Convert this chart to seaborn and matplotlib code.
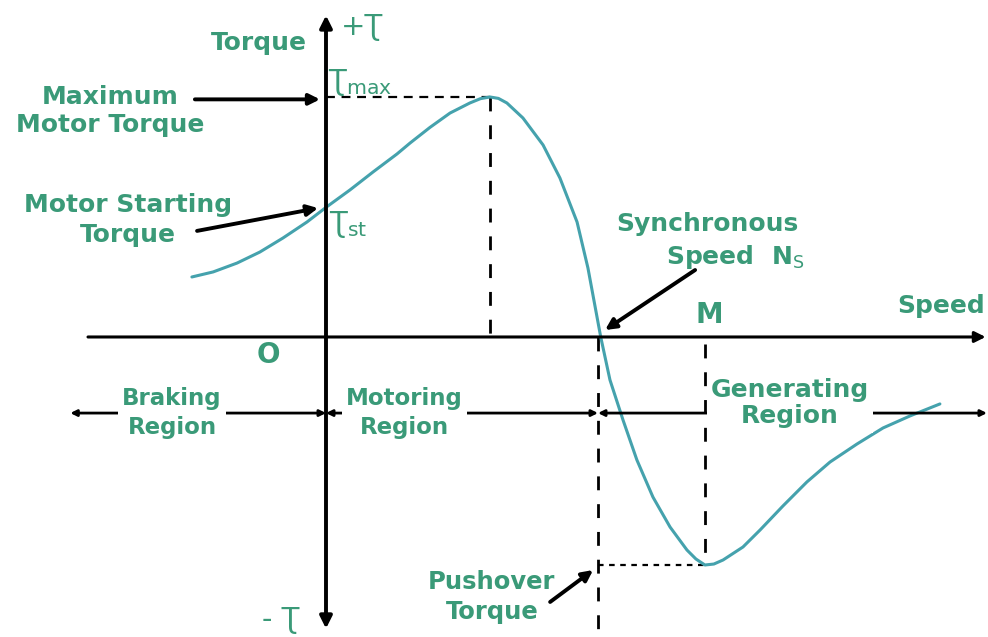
import numpy as np
import pandas as pd
import seaborn as sns
import matplotlib.pyplot as plt

# torque-speed curve of an induction machine (speed in units of Ns, torque in units of Tmax)
speed = [-0.493, -0.415, -0.327, -0.243, -0.158, -0.070, 0.0, 0.088, 0.173, 0.261,
         0.309, 0.382, 0.456, 0.529, 0.568, 0.603, 0.634, 0.665, 0.724, 0.798,
         0.860, 0.923, 0.963, 1.01, 1.044, 1.092, 1.143, 1.202, 1.265, 1.327,
         1.360, 1.393, 1.426, 1.460, 1.533, 1.596, 1.680, 1.768, 1.853, 1.952,
         2.048, 2.147, 2.257]
torque = [0.25, 0.271, 0.308, 0.354, 0.4125, 0.479, 0.54, 0.6125, 0.6875, 0.7625,
          0.808, 0.873, 0.933, 0.975, 0.993, 1.0, 0.994, 0.975, 0.9125, 0.8,
          0.6625, 0.479, 0.2875, 0.0, -0.179, -0.346, -0.5125, -0.667, -0.792, -0.8875,
          -0.925, -0.95, -0.946, -0.929, -0.875, -0.804, -0.704, -0.604, -0.521, -0.446,
          -0.379, -0.329, -0.279]

t_max_speed, t_max = 0.603, 1.0
sync_speed = 1.0
m_speed, t_pushover = 1.393, -0.95

regions = ["Braking\nRegion", "Motoring\nRegion", "Generating\nRegion"]
region_bounds = [(-0.94, 0.0), (0.0, 1.0), (1.0, 2.43)]
region_text_x = [-0.566, 0.287, 1.706]
region_text_y = [-0.317, -0.317, -0.275]
region_size = [16.5, 16.5, 18]
region_spacing = [1.32, 1.32, 1.15]

df = pd.DataFrame({"speed": speed, "torque": torque})

sns.set_theme(style="white")
plt.rcParams['font.family'] = ['DejaVu Sans']

txt_col = "#3a9a78"
curve_col = "#45a2ad"

fig = plt.figure(figsize=(9.88, 6.37), dpi=100)
ax = fig.add_axes([0, 0, 1, 1])
ax.set_xlim(-1.1985, 2.4338)
ax.set_ylim(-1.25, 1.404)
ax.axis("off")

sns.lineplot(data=df, x="speed", y="torque", color=curve_col, lw=2.2, ax=ax, zorder=3)

# axes with arrows
ax.annotate("", xy=(0, 1.34), xytext=(0, -1.215),
            arrowprops=dict(arrowstyle="<|-|>", lw=2.8, color="black", mutation_scale=18,
                            shrinkA=0, shrinkB=0))
ax.annotate("", xy=(2.425, 0), xytext=(-0.875, 0),
            arrowprops=dict(arrowstyle="-|>", lw=2.2, color="black", mutation_scale=16,
                            shrinkA=0, shrinkB=0))

# dashed guide lines
ax.plot([0, t_max_speed], [t_max, t_max], ls=(0, (4, 3)), color="black", lw=1.6)
ax.plot([t_max_speed, t_max_speed], [t_max, 0], ls=(0, (5, 5)), color="black", lw=2)
ax.plot([sync_speed, sync_speed], [0, -1.25], ls=(0, (5, 5)), color="black", lw=2)
ax.plot([m_speed, m_speed], [-0.03, t_pushover], ls=(0, (5, 5)), color="black", lw=2)
ax.plot([sync_speed, m_speed], [t_pushover, t_pushover], ls=(0, (2.5, 2.5)), color="black", lw=1.6)

# region arrows
for (a, b), lab, tx, ty, fs, sp in zip(region_bounds, regions, region_text_x, region_text_y,
                                       region_size, region_spacing):
    ax.annotate("", xy=(a, -0.317), xytext=(b, -0.317),
                arrowprops=dict(arrowstyle="<|-|>", lw=2, color="black", mutation_scale=9,
                                shrinkA=0, shrinkB=0))
    ax.text(tx, ty, lab, color=txt_col, fontsize=fs, fontweight="bold", ha="center",
            va="center", linespacing=sp, zorder=4,
            bbox=dict(facecolor="white", edgecolor="none", pad=3))

# pointer arrows
pointer = dict(arrowstyle="-|>", lw=2.8, color="black", mutation_scale=16, shrinkA=0, shrinkB=0)
ax.annotate("", xy=(-0.022, 0.99), xytext=(-0.482, 0.99), arrowprops=pointer)
ax.annotate("", xy=(-0.029, 0.537), xytext=(-0.474, 0.442), arrowprops=pointer)
ax.annotate("", xy=(1.026, 0.029), xytext=(1.357, 0.279), arrowprops=pointer)
ax.annotate("", xy=(0.982, -0.971), xytext=(0.824, -1.104), arrowprops=pointer)

# labels
lab = dict(color=txt_col, fontweight="bold", ha="center", va="center")
ax.text(-0.246, 1.225, "Torque", fontsize=18, **lab)
ax.text(-0.794, 0.942, "Maximum\nMotor Torque", fontsize=18, linespacing=1.25, **lab)
ax.text(-0.728, 0.4875, "Motor Starting\nTorque", fontsize=18, linespacing=1.3, **lab)
ax.text(1.401, 0.471, "Synchronous", fontsize=18, **lab)
ax.text(1.504, 0.333, r"Speed  N$_\mathrm{S}$", fontsize=18, **lab)
ax.text(2.262, 0.129, "Speed", fontsize=18, **lab)
ax.text(0.610, -1.083, "Pushover\nTorque", fontsize=17.5, linespacing=1.3, **lab)
ax.text(1.408, 0.092, "M", fontsize=20, **lab)
ax.text(-0.213, -0.075, "O", fontsize=20, **lab)

sym = dict(color=txt_col, fontsize=21, ha="left", va="center")
ax.text(0.055, 1.29, "+Ʈ", **sym)
ax.text(-0.235, -1.18, "- Ʈ", **sym)
ax.text(0.008, 1.06, r"Ʈ$_\mathrm{max}$", **sym)
ax.text(0.012, 0.47, r"Ʈ$_\mathrm{st}$", **sym)

fig.savefig("out.png", dpi=100)
